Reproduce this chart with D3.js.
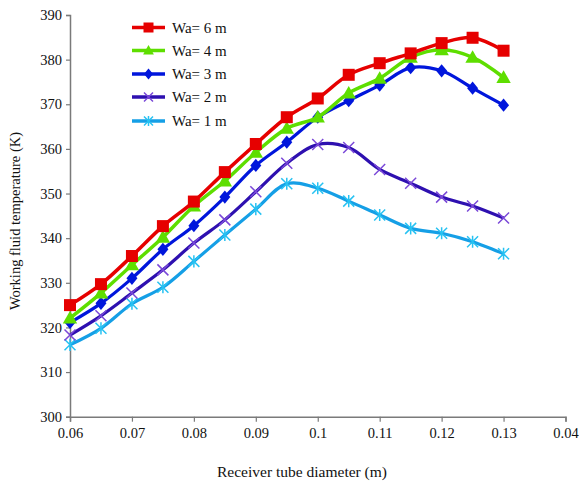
<!DOCTYPE html>
<html>
<head>
<meta charset="utf-8">
<script src="https://cdn.jsdelivr.net/npm/d3@7/dist/d3.min.js"></script>
<style>
body { margin: 0; background: #fff; }
svg { display: block; font-family: "Liberation Serif", "Times New Roman", serif; }
</style>
</head>
<body>
<svg id="chart" width="579" height="485"></svg>
<script>
const diameters = [0.06, 0.065, 0.07, 0.075, 0.08, 0.085, 0.09, 0.095, 0.10, 0.105, 0.11, 0.115, 0.12, 0.125, 0.13];
const wa6 = [325.0, 329.7, 336.0, 342.7, 348.2, 354.8, 361.1, 367.1, 371.3, 376.6, 379.2, 381.4, 383.7, 384.9, 382.0];
const wa4 = [322.1, 327.7, 334.0, 340.2, 347.2, 352.8, 359.2, 364.6, 367.1, 372.5, 375.8, 380.5, 382.2, 380.5, 376.0];
const wa3 = [321.1, 325.4, 331.0, 337.5, 342.8, 349.2, 356.3, 361.5, 367.1, 370.8, 374.3, 378.2, 377.5, 373.6, 369.8];
const wa2 = [318.3, 322.6, 327.7, 332.9, 338.9, 344.1, 350.4, 356.8, 361.0, 360.3, 355.4, 352.3, 349.2, 347.2, 344.5];
const wa1 = [316.1, 319.8, 325.3, 329.0, 334.8, 340.7, 346.5, 352.2, 351.2, 348.3, 345.2, 342.2, 341.1, 339.2, 336.5];
const seriesNames = ["Wa= 6 m", "Wa= 4 m", "Wa= 3 m", "Wa= 2 m", "Wa= 1 m"];
const xTickValues = [0.06, 0.07, 0.08, 0.09, 0.10, 0.11, 0.12, 0.13, 0.14];
const xTickLabels = ["0.06", "0.07", "0.08", "0.09", "0.1", "0.11", "0.12", "0.13", "0.04"];
const yTickValues = [300, 310, 320, 330, 340, 350, 360, 370, 380, 390];
const xTitle = "Receiver tube diameter (m)";
const yTitle = "Working fluid temperature (K)";

const styles = [
  { line: "#e60000", mark: "#e60000", shape: "square", lw: 3.5 },
  { line: "#5ede00", mark: "#5ede00", shape: "triangle", lw: 3.5 },
  { line: "#0016dc", mark: "#0016dc", shape: "diamond", lw: 3.2 },
  { line: "#2e10b0", mark: "#7a48d8", shape: "x", lw: 3.2 },
  { line: "#159fe6", mark: "#27c2f2", shape: "asterisk", lw: 3.2 }
];
const allSeries = [wa6, wa4, wa3, wa2, wa1];

const svg = d3.select("#chart");
const x = d3.scaleLinear().domain([0.06, 0.14]).range([70, 565.5]);
const y = d3.scaleLinear().domain([300, 390]).range([416.7, 15]);

const axisColor = "#7a7a7a";

// Y axis
const yAxis = svg.append("g").attr("transform", "translate(70,0)")
  .call(d3.axisLeft(y).tickValues(yTickValues).tickSize(4).tickPadding(4).tickFormat(d3.format("d")));
yAxis.select(".domain").attr("stroke", axisColor).attr("stroke-width", 1.5);
yAxis.selectAll(".tick line").attr("stroke", axisColor).attr("stroke-width", 1.2);
yAxis.selectAll(".tick text").attr("fill", "#111").style("font-size", "14.5px").style("font-family", "Liberation Serif, serif");

// X axis
const xAxis = svg.append("g").attr("transform", "translate(0,416.7)")
  .call(d3.axisBottom(x).tickValues(xTickValues).tickSize(5).tickPadding(6)
    .tickFormat((d, i) => xTickLabels[i]));
xAxis.select(".domain").attr("stroke", axisColor).attr("stroke-width", 1.5);
xAxis.selectAll(".tick line").attr("stroke", axisColor).attr("stroke-width", 1.2);
xAxis.selectAll(".tick text").attr("fill", "#111").style("font-size", "14.5px").style("font-family", "Liberation Serif, serif");

// Titles
svg.append("text").attr("x", 302).attr("y", 477).attr("text-anchor", "middle")
  .style("font-size", "15.5px").attr("fill", "#111").text(xTitle);
svg.append("text").attr("transform", "translate(20,221) rotate(-90)").attr("text-anchor", "middle")
  .style("font-size", "14.5px").attr("fill", "#111").text(yTitle);

function drawMarker(g, shape, color, s) {
  if (shape === "square") {
    g.append("rect").attr("x", -s / 2).attr("y", -s / 2).attr("width", s).attr("height", s).attr("fill", color);
  } else if (shape === "triangle") {
    const h = s;
    g.append("path").attr("d", `M0,${-h * 0.6}L${h * 0.6},${h * 0.45}L${-h * 0.6},${h * 0.45}Z`).attr("fill", color);
  } else if (shape === "diamond") {
    g.append("path").attr("d", `M0,${-s * 0.6}L${s * 0.5},0L0,${s * 0.6}L${-s * 0.5},0Z`).attr("fill", color);
  } else if (shape === "x") {
    const r = s / 2;
    g.append("path").attr("d", `M${-r},${-r}L${r},${r}M${-r},${r}L${r},${-r}`).attr("stroke", color).attr("stroke-width", 1.5).attr("fill", "none");
  } else if (shape === "asterisk") {
    const r = s / 2;
    g.append("path").attr("d", `M${-r},${-r}L${r},${r}M${-r},${r}L${r},${-r}M0,${-r * 1.1}L0,${r * 1.1}`).attr("stroke", color).attr("stroke-width", 1.5).attr("fill", "none");
  }
}

const markerSizes = { square: 12, triangle: 12, diamond: 11, x: 11, asterisk: 11 };
const line = d3.line().x(d => x(d[0])).y(d => y(d[1])).curve(d3.curveCatmullRom.alpha(0.5));

// draw from bottom series to top so red is on top
for (let k = allSeries.length - 1; k >= 0; k--) {
  const st = styles[k];
  const pts = diameters.map((d, i) => [d, allSeries[k][i]]);
  svg.append("path").datum(pts).attr("d", line).attr("fill", "none")
    .attr("stroke", st.line).attr("stroke-width", st.lw).attr("stroke-linejoin", "round");
  const mg = svg.append("g");
  pts.forEach(p => {
    const g = mg.append("g").attr("transform", `translate(${x(p[0])},${y(p[1])})`);
    drawMarker(g, st.shape, st.mark, markerSizes[st.shape]);
  });
}

// Legend
const legendY = [27.5, 50.5, 74, 97, 121];
seriesNames.forEach((name, i) => {
  const st = styles[i];
  const g = svg.append("g").attr("transform", `translate(0,${legendY[i]})`);
  g.append("line").attr("x1", 132).attr("x2", 165).attr("y1", 0).attr("y2", 0)
    .attr("stroke", st.line).attr("stroke-width", 3.5);
  const mg = g.append("g").attr("transform", "translate(148.5,0)");
  drawMarker(mg, st.shape, st.mark, st.shape === "square" ? 10 : 9);
  g.append("text").attr("x", 172).attr("y", 5).style("font-size", "15px").attr("fill", "#111").text(name);
});
</script>
</body>
</html>
